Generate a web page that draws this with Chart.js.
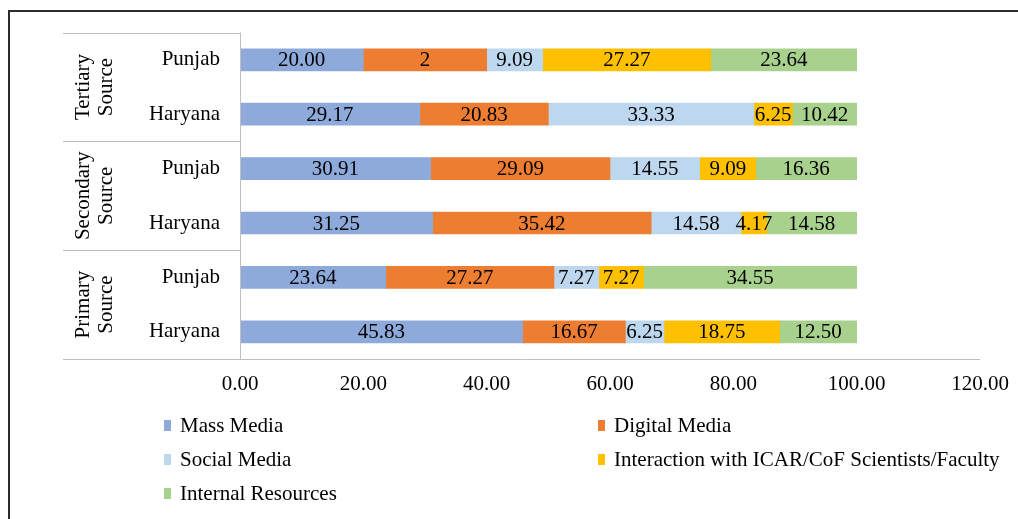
<!DOCTYPE html>
<html>
<head>
<meta charset="utf-8">
<script src="https://cdn.jsdelivr.net/npm/chart.js@4/dist/chart.umd.min.js"></script>
<style>
  body { margin: 0; background: #fff; }
  canvas { display: block; }
</style>
</head>
<body>
<canvas id="chart" width="1018" height="519"></canvas>
<script>
// --- data ---
const rowLabels = ['Punjab', 'Haryana', 'Punjab', 'Haryana', 'Punjab', 'Haryana'];
const groupLabels = [['Tertiary', 'Source'], ['Secondary', 'Source'], ['Primary', 'Source']];

const massMedia = [20.00, 29.17, 30.91, 31.25, 23.64, 45.83];
const digitalMedia = [20.00, 20.83, 29.09, 35.42, 27.27, 16.67];
const socialMedia = [9.09, 33.33, 14.55, 14.58, 7.27, 6.25];
const interaction = [27.27, 6.25, 9.09, 4.17, 7.27, 18.75];
const internalRes = [23.64, 10.42, 16.36, 14.58, 34.55, 12.50];

// the source shows "2" on the first digital media segment
const digitalShown = ['2', '20.83', '29.09', '35.42', '27.27', '16.67'];

const xTicks = [0, 20, 40, 60, 80, 100, 120];

const FONT = '"Liberation Serif", "Times New Roman", serif';
const GRAY = '#bfbfbf';

// Draws the frame, the grouped category box, value labels and legend
const decorations = {
  id: 'decorations',
  afterDatasetsDraw(chart) {
    const ctx = chart.ctx;
    const area = chart.chartArea;
    ctx.save();

    // outer frame (top and left edges only visible)
    ctx.strokeStyle = '#2b2b2b';
    ctx.lineWidth = 2;
    ctx.beginPath();
    ctx.moveTo(1018, 11);
    ctx.lineTo(9, 11);
    ctx.lineTo(9, 519);
    ctx.stroke();

    // category box
    ctx.strokeStyle = GRAY;
    ctx.lineWidth = 1;
    const boxLeft = 63;
    const rowH = (area.bottom - area.top) / rowLabels.length;
    ctx.beginPath();
    for (let g = 0; g < 3; g++) {
      const y = Math.round(area.top + g * rowH * 2) + 0.5;
      ctx.moveTo(boxLeft, y);
      ctx.lineTo(area.left, y);
    }
    const yb = Math.round(area.bottom) + 0.5;
    ctx.moveTo(boxLeft, yb);
    ctx.lineTo(area.right, yb);
    ctx.moveTo(Math.round(area.left) + 0.5, area.top);
    ctx.lineTo(Math.round(area.left) + 0.5, area.bottom);
    ctx.stroke();

    // rotated group labels
    ctx.fillStyle = '#000';
    ctx.font = '21px ' + FONT;
    ctx.textAlign = 'center';
    ctx.textBaseline = 'middle';
    groupLabels.forEach((lines, g) => {
      const cy = area.top + (g * 2 + 1) * rowH;
      lines.forEach((txt, i) => {
        ctx.save();
        ctx.translate(83 + i * 23, cy);
        ctx.rotate(-Math.PI / 2);
        ctx.fillText(txt, 0, 0);
        ctx.restore();
      });
    });

    // value labels
    ctx.font = '21px ' + FONT;
    ctx.fillStyle = '#000';
    chart.data.datasets.forEach((ds, di) => {
      const meta = chart.getDatasetMeta(di);
      meta.data.forEach((bar, i) => {
        const txt = ds.shown ? ds.shown[i] : ds.data[i].toFixed(2);
        ctx.fillText(txt, (bar.x + bar.base) / 2, bar.y + 1);
      });
    });

    // legend, two columns
    const cols = [164, 598];
    const rows = [426, 460, 494];
    ctx.textAlign = 'left';
    ctx.font = '21px ' + FONT;
    chart.data.datasets.forEach((ds, di) => {
      const x = cols[di % 2];
      const y = rows[Math.floor(di / 2)];
      ctx.fillStyle = ds.backgroundColor;
      ctx.fillRect(x, y - 6, 7, 11);
      ctx.fillStyle = '#000';
      ctx.fillText(ds.label, x + 16, y);
    });

    ctx.restore();
  }
};

new Chart(document.getElementById('chart'), {
  type: 'bar',
  data: {
    labels: rowLabels,
    datasets: [
      { label: 'Mass Media', data: massMedia, backgroundColor: '#8eaadb' },
      { label: 'Digital Media', data: digitalMedia, shown: digitalShown, backgroundColor: '#ed7d31' },
      { label: 'Social Media', data: socialMedia, backgroundColor: '#bdd7ee' },
      { label: 'Interaction with ICAR/CoF Scientists/Faculty', data: interaction, backgroundColor: '#ffc000' },
      { label: 'Internal Resources', data: internalRes, backgroundColor: '#a9d18e' }
    ]
  },
  options: {
    indexAxis: 'y',
    responsive: false,
    devicePixelRatio: 1,
    animation: false,
    layout: { padding: { top: 31, right: 38, left: 0, bottom: 0 } },
    datasets: { bar: { barThickness: 22 } },
    plugins: {
      legend: { display: false },
      tooltip: { enabled: false }
    },
    scales: {
      x: {
        stacked: true,
        min: xTicks[0],
        max: xTicks[xTicks.length - 1],
        afterFit: s => { s.height = 160; s.paddingLeft = 0; s.paddingRight = 0; },
        afterBuildTicks: s => { s.ticks = xTicks.map(v => ({ value: v })); },
        grid: { display: false, drawTicks: false },
        border: { display: false },
        ticks: {
          padding: 13,
          color: '#000',
          font: { family: FONT, size: 21 },
          maxRotation: 0,
          callback: v => Number(v).toFixed(2)
        }
      },
      y: {
        stacked: true,
        afterFit: s => { s.width = 240; },
        grid: { display: false, drawTicks: false },
        border: { display: false },
        ticks: {
          padding: 20,
          color: '#000',
          font: { family: FONT, size: 21 }
        }
      }
    }
  },
  plugins: [decorations]
});
</script>
</body>
</html>
